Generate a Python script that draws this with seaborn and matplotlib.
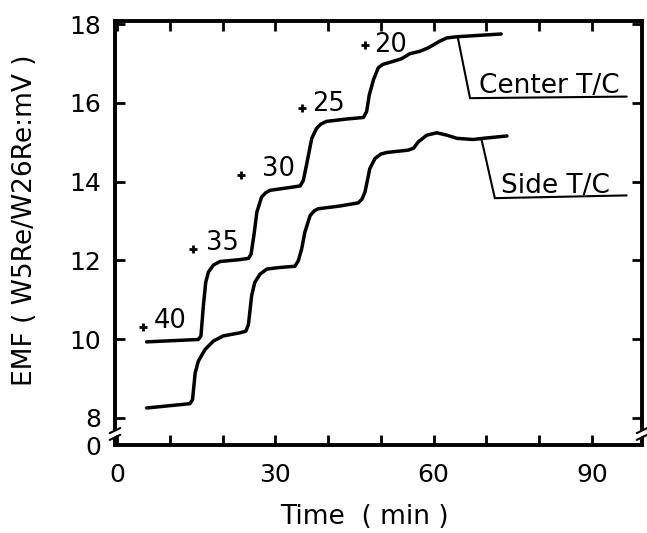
import numpy as np
import pandas as pd
import matplotlib
matplotlib.use("Agg")
import matplotlib.pyplot as plt
import seaborn as sns

# ---- data ----
center_time = [5.6, 15.4, 15.9, 16.35, 16.8, 17.3, 18.25, 19.5, 23.3, 24.9, 25.4, 26.0,
               26.5, 27.4, 28.2, 29.0, 32.2, 34.7, 35.3, 35.9, 36.9, 37.8, 38.6, 39.7,
               43.5, 46.7, 47.3, 47.8, 48.6, 49.5, 50.4, 51.7, 53.9, 55.5, 57.4, 59.0,
               61.2, 62.5, 64.4, 72.8]
center_emf = [9.93, 9.99, 10.08, 10.84, 11.44, 11.70, 11.88, 11.97, 12.02, 12.05, 12.16, 12.70,
              13.23, 13.61, 13.72, 13.78, 13.84, 13.89, 14.03, 14.42, 15.10, 15.35, 15.46, 15.53,
              15.59, 15.63, 15.78, 16.20, 16.59, 16.89, 16.98, 17.03, 17.12, 17.25, 17.31, 17.40,
              17.57, 17.65, 17.68, 17.75]

side_time = [5.6, 13.8, 14.3, 14.8, 15.4, 16.7, 18.25, 20.1, 23.3, 24.4, 24.9, 25.5, 26.1,
             27.1, 28.4, 30.9, 33.7, 34.35, 35.0, 35.6, 36.6, 37.4, 38.1, 42.2, 45.7, 46.4,
             47.0, 47.9, 48.9, 50.0, 51.1, 55.2, 56.2, 57.1, 58.7, 60.6, 62.5, 64.4, 67.5,
             69.4, 73.9]
side_emf = [8.25, 8.36, 8.46, 9.14, 9.44, 9.74, 9.95, 10.08, 10.16, 10.20, 10.37, 11.10, 11.44,
            11.65, 11.78, 11.82, 11.85, 11.99, 12.30, 12.72, 13.14, 13.26, 13.31, 13.38, 13.46, 13.55,
            13.74, 14.33, 14.59, 14.70, 14.74, 14.80, 14.85, 15.01, 15.18, 15.24, 15.18, 15.10, 15.07,
            15.10, 15.16]

step_labels = ["40", "35", "30", "25", "20"]
step_plus_x = [4.9, 14.4, 23.5, 35.0, 47.0]
step_plus_y = [10.32, 12.29, 14.17, 15.87, 17.47]
step_text_x = [7.0, 16.9, 27.4, 37.0, 48.8]
step_text_y = [10.45, 12.44, 14.31, 15.97, 17.47]

series_names = ["Center T/C", "Side T/C"]
# leader lines: curve point -> start of underline -> end of underline
center_leader_x = [64.6, 66.9, 96.6]
center_leader_y = [17.65, 16.12, 16.16]
side_leader_x = [69.1, 71.6, 96.6]
side_leader_y = [15.06, 13.58, 13.65]
label_text_x = [68.6, 72.7]
label_text_y = [16.25, 13.72]

x_major = [0, 30, 60, 90]
x_minor = [10, 20, 40, 50, 70, 80]
y_ticks = [8, 10, 12, 14, 16, 18]
y_ticklabels = ["8", "10", "12", "14", "16", "18"]
y_break_label = "0"

# ---- build frame ----
df = pd.concat([
    pd.DataFrame({"time": center_time, "emf": center_emf, "series": series_names[0]}),
    pd.DataFrame({"time": side_time, "emf": side_emf, "series": series_names[1]}),
], ignore_index=True)

sns.set_theme(style="ticks")
plt.rcParams["font.family"] = ["DejaVu Sans"]
plt.rcParams["text.color"] = "black"
plt.rcParams["axes.labelcolor"] = "black"
plt.rcParams["xtick.color"] = "black"
plt.rcParams["ytick.color"] = "black"
plt.rcParams["xtick.labelcolor"] = "black"
plt.rcParams["ytick.labelcolor"] = "black"

fig = plt.figure(figsize=(6.47, 5.33), dpi=100)
ax = fig.add_axes([0.1777, 0.1651, 0.9923 - 0.1777, 0.9606 - 0.1651])

sns.lineplot(data=df, x="time", y="emf", hue="series",
             palette={series_names[0]: "black", series_names[1]: "black"},
             estimator=None, sort=False, legend=False, linewidth=2.5, ax=ax)
for ln in ax.lines:
    ln.set_solid_joinstyle("round")
    ln.set_solid_capstyle("round")

ymin, ymax = 7.31, 18.08
ax.set_xlim(-0.4, 99.5)
ax.set_ylim(ymin, ymax)

ax.set_xticks(x_major)
ax.set_xticklabels([str(v) for v in x_major])
ax.set_xticks(x_minor, minor=True)
ax.set_yticks([ymin] + y_ticks)
ax.set_yticklabels([y_break_label] + y_ticklabels)

for s in ax.spines.values():
    s.set_linewidth(2.8)
    s.set_color("black")

ax.tick_params(axis="both", which="both", direction="in", top=True, right=True,
               length=7.5, width=2, color="black", labelcolor="black")
ax.tick_params(axis="x", which="major", labelsize=18, pad=13)
ax.tick_params(axis="y", which="major", labelsize=18, pad=10)
ax.yaxis.get_major_ticks()[0].tick1line.set_visible(False)
ax.yaxis.get_major_ticks()[0].tick2line.set_visible(False)

ax.set_xlabel("Time  ( min )", fontsize=19, color="black")
ax.xaxis.set_label_coords(0.4725, -0.17)
ax.xaxis.label.set_va("center")
ax.set_ylabel("EMF ( W5Re/W26Re:mV )", fontsize=19, color="black")
ax.yaxis.set_label_coords(-0.171, 0.531)
ax.yaxis.label.set_va("center")

# step annotations
ax.plot(step_plus_x, step_plus_y, linestyle="none", marker="+", markersize=6,
        markeredgewidth=2, color="black")
for t, tx, ty in zip(step_labels, step_text_x, step_text_y):
    ax.text(tx, ty, t, fontsize=18.5, ha="left", va="center", color="black")

# series labels with leader lines
for lx, ly in [(center_leader_x, center_leader_y), (side_leader_x, side_leader_y)]:
    ax.plot(lx, ly, color="black", linewidth=1.5)
for name, tx, ty in zip(series_names, label_text_x, label_text_y):
    ax.text(tx, ty, name, fontsize=19, ha="left", va="baseline", color="black")

# axis break marks
for xa in (0.0, 1.0):
    ax.plot([xa - 0.008, xa + 0.008], [0.022, 0.034], transform=ax.transAxes,
            color="white", linewidth=4, clip_on=False, zorder=5)
    for yo in (0.018, 0.034):
        ax.plot([xa - 0.01, xa + 0.01], [yo - 0.006, yo + 0.006], transform=ax.transAxes,
                color="black", linewidth=1.5, clip_on=False, zorder=6)

fig.savefig("out.png", dpi=100)
